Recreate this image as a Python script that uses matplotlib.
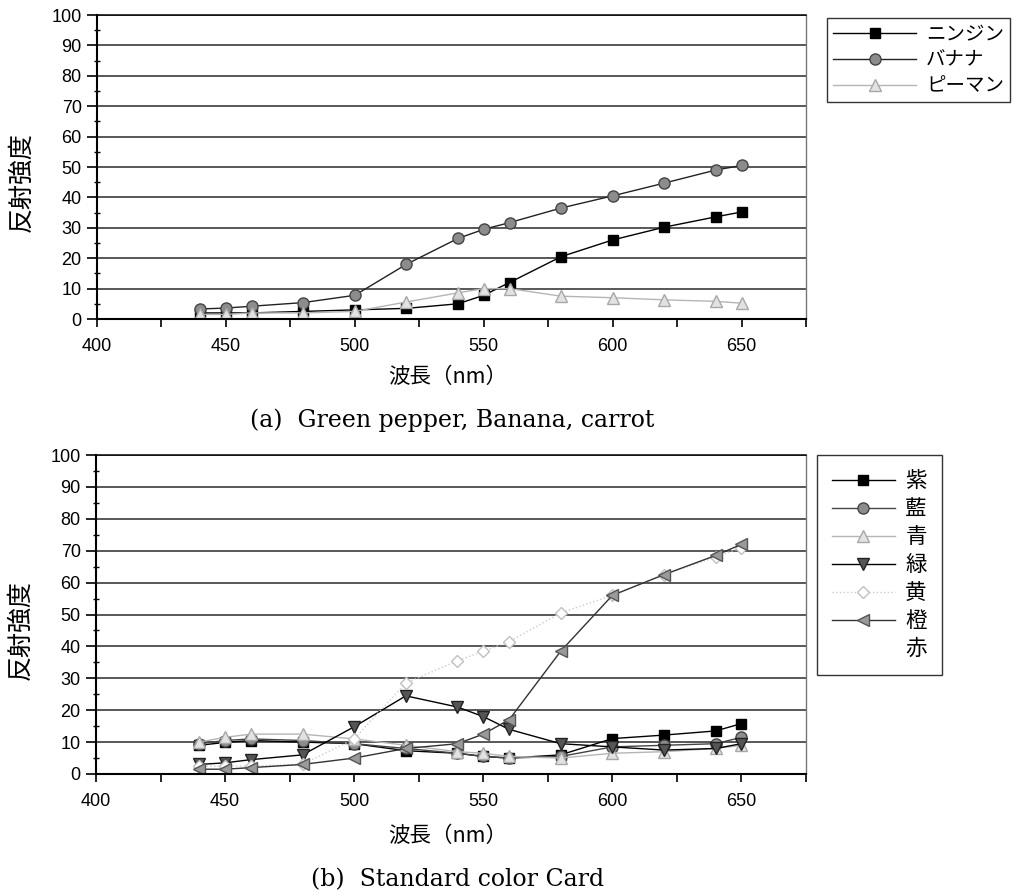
import matplotlib
matplotlib.use("Agg")
import matplotlib.pyplot as plt
from matplotlib.ticker import MultipleLocator
from matplotlib.lines import Line2D

plt.rcParams['font.family'] = ['Noto Sans CJK JP', 'DejaVu Sans']

# wavelengths (nm)
wl = [440, 450, 460, 480, 500, 520, 540, 550, 560, 580, 600, 620, 640, 650]

# (a) vegetables / fruit
carrot = [2.0, 2.0, 2.0, 2.5, 3.0, 3.5, 5.0, 7.8, 12.0, 20.5, 26.0, 30.2, 33.6, 35.2]
banana = [3.3, 3.6, 4.2, 5.4, 7.8, 18.0, 26.5, 29.5, 31.7, 36.5, 40.5, 44.7, 49.0, 50.5]
pepper = [1.5, 1.5, 2.0, 2.0, 2.5, 5.6, 8.6, 10.0, 10.0, 7.5, 7.0, 6.3, 5.8, 5.2]
labels_a = ["ニンジン", "バナナ", "ピーマン"]

# (b) standard colour cards
purple = [9.0, 9.9, 10.5, 10.0, 9.5, 7.3, 6.5, 5.5, 5.0, 6.0, 11.1, 12.2, 13.5, 15.8]
indigo = [9.5, 10.5, 11.0, 10.5, 9.5, 8.0, 6.5, 5.5, 5.0, 5.5, 8.5, 9.0, 9.5, 11.5]
blue = [10.0, 11.5, 12.5, 12.5, 11.0, 9.0, 7.0, 6.5, 5.5, 5.0, 6.5, 7.0, 8.0, 9.0]
green = [3.0, 3.5, 4.5, 6.0, 14.8, 24.5, 21.0, 18.0, 14.0, 9.5, 8.5, 7.5, 8.0, 9.5]
yellow = [2.5, 2.5, 2.5, 3.0, 11.0, 28.5, 35.5, 38.5, 41.5, 50.5, 56.0, 62.5, 68.0, 71.0]
orange = [1.5, 1.5, 2.0, 3.0, 5.0, 8.0, 9.5, 12.5, 17.0, 38.5, 56.0, 62.5, 68.5, 72.0]
labels_b = ["紫", "藍", "青", "緑", "黄", "橙", "赤"]

W, H = 1021, 894
fig = plt.figure(figsize=(W / 100, H / 100), dpi=100)


def px_axes(left, top, right, bottom):
    return fig.add_axes([left / W, 1 - bottom / H, (right - left) / W, (bottom - top) / H])


ax_a = px_axes(97, 15, 806, 319)
ax_b = px_axes(96, 455, 806, 774)


def style_axes(ax, ylab_y):
    ax.set_xlim(400, 675)
    ax.set_ylim(0, 100)
    ax.xaxis.set_major_locator(MultipleLocator(50))
    ax.xaxis.set_minor_locator(MultipleLocator(25))
    ax.yaxis.set_major_locator(MultipleLocator(10))
    ax.yaxis.set_minor_locator(MultipleLocator(5))
    ax.tick_params(axis="x", which="both", direction="out", length=6, width=1.2, pad=8)
    ax.tick_params(axis="y", which="major", direction="out", length=7, width=1.2, pad=4)
    ax.tick_params(axis="y", which="minor", direction="inout", length=5, width=1)
    for lab in ax.get_xticklabels() + ax.get_yticklabels():
        lab.set_family("Liberation Sans")
        lab.set_fontsize(13)
    ax.grid(axis="y", which="major", color="#2a2a2a", linewidth=1.1)
    ax.set_axisbelow(True)
    for s in ["left", "bottom"]:
        ax.spines[s].set_linewidth(1.5)
    ax.spines["top"].set_linewidth(1.1)
    ax.spines["right"].set_color("#777777")
    ax.spines["right"].set_linewidth(1)
    ax.set_xlabel("波長（nm）", fontsize=15.5)
    ax.xaxis.label.set_va("center")
    ax.set_ylabel("反射強度", fontsize=18)
    ax.yaxis.label.set_va("center")
    ax.yaxis.set_label_coords(-0.107, ylab_y)


style_axes(ax_a, 0.45)
ax_a.xaxis.set_label_coords((448 - 97) / 709, (319 - 377) / 304)
ax_a.plot(wl, carrot, color="black", lw=1, marker="s", ms=7, mfc="black", mec="black", label=labels_a[0])
ax_a.plot(wl, banana, color="#222222", lw=1, marker="o", ms=8, mfc="#8c8c8c", mec="#444444", label=labels_a[1])
ax_a.plot(wl, pepper, color="#b5b5b5", lw=1, marker="^", ms=8, mfc="#e2e2e2", mec="#a8a8a8", label=labels_a[2])
leg_a = ax_a.legend(loc="upper left", bbox_to_anchor=(827 / W, 1 - 18 / H), bbox_transform=fig.transFigure,
                    fontsize=14, handlelength=4.3, labelspacing=0.25, frameon=True, fancybox=False,
                    edgecolor="black", borderpad=0.3, handletextpad=0.5, borderaxespad=0)
leg_a.get_frame().set_linewidth(1)

style_axes(ax_b, 0.45)
ax_b.xaxis.set_label_coords((448 - 96) / 710, (774 - 836) / 319)
ax_b.plot(wl, purple, color="black", lw=1, marker="s", ms=7, mfc="black", mec="black", label=labels_b[0])
ax_b.plot(wl, indigo, color="#444444", lw=1, marker="o", ms=8, mfc="#8c8c8c", mec="#444444", label=labels_b[1])
ax_b.plot(wl, blue, color="#b5b5b5", lw=1, marker="^", ms=8, mfc="#e2e2e2", mec="#a8a8a8", label=labels_b[2])
ax_b.plot(wl, green, color="black", lw=1, marker="v", ms=9, mfc="#555555", mec="#222222", label=labels_b[3])
ax_b.plot(wl, yellow, color="#cccccc", lw=1, ls=":", marker="D", ms=6.5, mfc="white", mec="#c0c0c0", label=labels_b[4])
ax_b.plot(wl, orange, color="#333333", lw=1, marker="<", ms=9, mfc="#9a9a9a", mec="#555555", label=labels_b[5])
handles, _ = ax_b.get_legend_handles_labels()
handles.append(Line2D([], [], color="none"))
leg_b = ax_b.legend(handles, labels_b, loc="upper left", bbox_to_anchor=(817 / W, 1 - 455 / H),
                    bbox_transform=fig.transFigure, fontsize=15.5, handlelength=2.9, labelspacing=0.28,
                    frameon=True, fancybox=False, edgecolor="black", borderpad=0.7, handletextpad=0.5,
                    borderaxespad=0)
leg_b.get_frame().set_linewidth(1)

fig.text(452 / W, 1 - 420 / H, "(a)  Green pepper, Banana, carrot", ha="center", va="center",
         fontsize=17, family="DejaVu Serif")
fig.text(458 / W, 1 - 880 / H, "(b)  Standard color Card", ha="center", va="center",
         fontsize=17, family="DejaVu Serif")

fig.savefig("out.png", dpi=100)
